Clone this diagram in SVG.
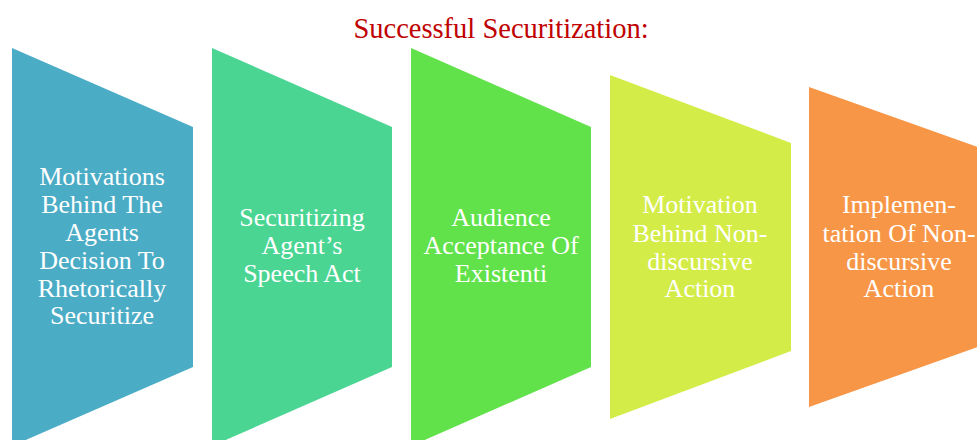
<svg xmlns="http://www.w3.org/2000/svg" width="977" height="440" viewBox="0 0 977 440">
  <style>
    .title { font-family: "Liberation Serif", "Times New Roman", serif; font-size: 28.5px; fill: #C00000; text-anchor: middle; }
    .label { font-family: "Liberation Serif", "Times New Roman", serif; font-size: 26px; fill: #FFFFFF; text-anchor: middle; }
  </style>
  <rect width="977" height="440" fill="#FFFFFF"/>
  <text class="title" x="501" y="38">Successful Securitization:</text>

  <!-- stages, drawn left to right as tapering panels -->
  <g id="stage1">
    <polygon points="12,48 193,127 193,367 12,446" fill="#4BACC6"/>
    <text class="label" x="102" y="185">Motivations</text>
    <text class="label" x="102" y="213">Behind The</text>
    <text class="label" x="102" y="241">Agents</text>
    <text class="label" x="102" y="269">Decision To</text>
    <text class="label" x="102" y="296.5">Rhetorically</text>
    <text class="label" x="102" y="323.5">Securitize</text>
  </g>
  <g id="stage2">
    <polygon points="212,48 392,127 392,367 212,446" fill="#4AD592"/>
    <text class="label" x="302" y="225.5">Securitizing</text>
    <text class="label" x="302" y="253.5">Agent’s</text>
    <text class="label" x="302" y="281.5">Speech Act</text>
  </g>
  <g id="stage3">
    <polygon points="411,48 591,127 591,367 411,446" fill="#61E24A"/>
    <text class="label" x="501" y="225.5">Audience</text>
    <text class="label" x="501" y="253.5">Acceptance Of</text>
    <text class="label" x="501" y="281.5">Existenti</text>
  </g>
  <g id="stage4">
    <polygon points="610,75 791,143 791,351 610,419" fill="#D4EC48"/>
    <text class="label" x="700" y="213">Motivation</text>
    <text class="label" x="700" y="241.5">Behind Non-</text>
    <text class="label" x="700" y="269.5">discursive</text>
    <text class="label" x="700" y="297">Action</text>
  </g>
  <g id="stage5">
    <polygon points="809,87 989,151 989,343 809,407" fill="#F79646"/>
    <text class="label" x="899" y="213">Implemen-</text>
    <text class="label" x="899" y="241.5">tation Of Non-</text>
    <text class="label" x="899" y="269.5">discursive</text>
    <text class="label" x="899" y="297">Action</text>
  </g>

  <g id="connectors"></g>
</svg>
